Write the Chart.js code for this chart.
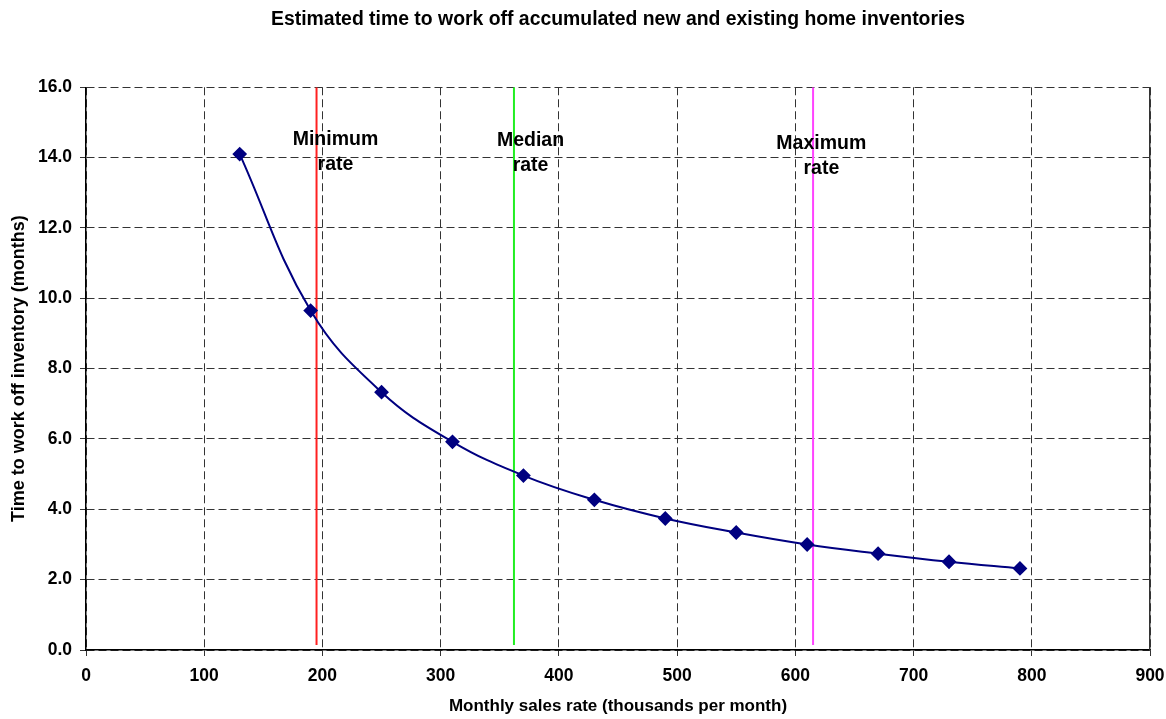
<!DOCTYPE html>
<html>
<head>
<meta charset="utf-8">
<script src="https://cdn.jsdelivr.net/npm/chart.js@4/dist/chart.umd.min.js"></script>
<style>
  html, body { margin: 0; padding: 0; background: #fff; }
  #wrap { width: 1166px; height: 719px; }
</style>
</head>
<body>
<div id="wrap"><canvas id="inventory"></canvas></div>
<script>
// sales rate (thousands per month) and months of inventory
var salesRate = [130, 190, 250, 310, 370, 430, 490, 550, 610, 670, 730, 790];
var months = [14.1, 9.65, 7.33, 5.92, 4.96, 4.27, 3.74, 3.34, 3.0, 2.74, 2.51, 2.32];

// reference rates (vertical markers)
var refNames = ["Minimum", "Median", "Maximum"];
var refRates = [195, 362, 615];
var refColors = ["#ff2020", "#22ee22", "#ff44ff"];
var refLabelX = [211, 376, 622];
var refLabelY = [14.5, 14.47, 14.4];

var xTicks = [0, 100, 200, 300, 400, 500, 600, 700, 800, 900];
var yTicks = [0, 2, 4, 6, 8, 10, 12, 14, 16];

var font = "'Liberation Sans', Arial, sans-serif";
Chart.defaults.font.family = font;
Chart.defaults.color = "#000";

var points = salesRate.map(function (x, i) { return { x: x, y: months[i] }; });

var datasets = [{
  label: "Months",
  data: points,
  borderColor: "#000080",
  backgroundColor: "#000080",
  borderWidth: 2,
  tension: 0.4,
  pointStyle: "rectRot",
  pointRadius: 6,
  pointHoverRadius: 6,
  order: 0,
}];

refRates.forEach(function (r, i) {
  datasets.push({
    label: refNames[i],
    data: [{ x: r, y: 0.14 }, { x: r, y: 16 }],
    borderColor: refColors[i],
    borderWidth: 2,
    pointRadius: 0,
    order: 1,
  });
});

// text next to the reference lines
var refText = {
  id: "refText",
  afterDatasetsDraw: function (chart) {
    var ctx = chart.ctx;
    var xs = chart.scales.x, ys = chart.scales.y;
    ctx.save();
    ctx.font = "bold 19.5px " + font;
    ctx.fillStyle = "#000";
    ctx.textAlign = "center";
    ctx.textBaseline = "middle";
    refNames.forEach(function (n, i) {
      var px = xs.getPixelForValue(refLabelX[i]);
      var py = ys.getPixelForValue(refLabelY[i]);
      ctx.fillText(n, px, py);
      ctx.fillText("rate", px, py + 25);
    });
    ctx.restore();
  }
};

new Chart(document.getElementById("inventory"), {
  type: "line",
  data: { datasets: datasets },
  plugins: [refText],
  options: {
    responsive: true,
    maintainAspectRatio: false,
    animation: false,
    layout: { padding: { left: 0, right: 16, top: 0, bottom: 0 } },
    plugins: {
      legend: { display: false },
      tooltip: { enabled: false },
      title: {
        display: true,
        fullSize: false,
        text: "Estimated time to work off accumulated new and existing home inventories",
        font: { size: 19.4, weight: "bold" },
        color: "#000",
        padding: { top: 8, bottom: 56 },
      },
    },
    scales: {
      x: {
        type: "linear",
        min: 0,
        max: 900,
        afterBuildTicks: function (s) { s.ticks = xTicks.map(function (v) { return { value: v }; }); },
        afterFit: function (s) { s.height = 69; s.paddingLeft = 0; s.paddingRight = 0; },
        ticks: { font: { size: 17.5, weight: "bold" }, padding: 10, maxRotation: 0 },
        grid: { color: "#333", tickLength: 6, tickColor: "#333" },
        border: { color: "#000", width: 1.5, dash: [8, 4] },
        title: {
          display: true,
          text: "Monthly sales rate (thousands per month)",
          font: { size: 17, weight: "bold" },
          color: "#000",
          padding: { top: 0, bottom: 2 },
        },
      },
      y: {
        min: 0,
        max: 16,
        afterBuildTicks: function (s) { s.ticks = yTicks.map(function (v) { return { value: v }; }); },
        afterFit: function (s) { s.width = 86; },
        ticks: {
          font: { size: 17.5, weight: "bold" },
          padding: 8,
          callback: function (v) { return v.toFixed(1); },
        },
        grid: { color: "#333", tickLength: 6, tickColor: "#333" },
        border: { color: "#000", width: 1.5, dash: [8, 4] },
        title: {
          display: true,
          text: "Time to work off inventory (months)",
          font: { size: 18, weight: "bold" },
          color: "#000",
          padding: { top: 8, bottom: 0 },
        },
      },
      y2: {
        position: "right",
        min: 0,
        max: 16,
        ticks: { display: false },
        grid: { display: false, drawTicks: false },
        border: { color: "#333", width: 1.5 },
        afterFit: function (s) { s.width = 0; },
      },
    },
  },
});
</script>
</body>
</html>
